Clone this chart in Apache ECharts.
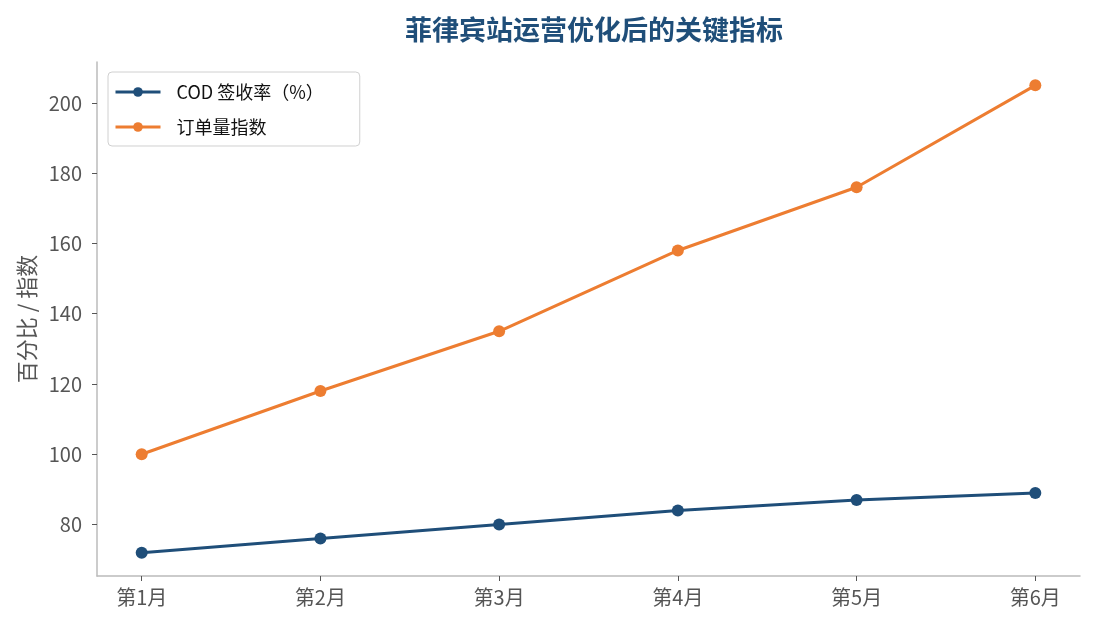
<!DOCTYPE html>
<html>
<head>
<meta charset="utf-8">
<script src="https://cdn.jsdelivr.net/npm/echarts@6/dist/echarts.min.js"></script>
<style>
  html, body { margin: 0; padding: 0; background: #fff; }
  #chart { width: 1095px; height: 630px; }
</style>
</head>
<body>
<div id="chart"></div>
<script>
const months = ['第1月', '第2月', '第3月', '第4月', '第5月', '第6月']
const codRate = [72, 76, 80, 84, 87, 89]
const orderIndex = [100, 118, 135, 158, 176, 205]
const yTicks = [80, 100, 120, 140, 160, 180, 200]

const FONT = '"Noto Sans CJK SC", "Noto Sans", sans-serif'
const BLUE = '#1f4e79'
const ORANGE = '#ed7d31'

function toPoints(values) {
  return values.map((v, i) => [i, v])
}

const chart = echarts.init(document.getElementById('chart'))

chart.setOption({
  animation: false,
  textStyle: { fontFamily: FONT },
  title: {
    text: '菲律宾站运营优化后的关键指标',
    left: 589,
    textAlign: 'center',
    top: 11,
    textStyle: { fontFamily: FONT, fontSize: 27, fontWeight: 'bold', color: BLUE },
  },
  legend: {
    left: 108,
    top: 72,
    orient: 'vertical',
    backgroundColor: '#fff',
    borderColor: '#d0d0d0',
    borderWidth: 1,
    borderRadius: 4,
    padding: [11, 36, 10, 6],
    itemWidth: 45,
    itemHeight: 12,
    itemGap: 17,
    lineStyle: { width: 3 },
    textStyle: { fontFamily: FONT, fontSize: 18, color: '#111', padding: [0, 0, 0, 11] },
    data: ['COD 签收率（%）', '订单量指数'],
  },
  grid: { left: 97, right: 15, top: 62, bottom: 54 },
  xAxis: {
    type: 'value',
    min: -0.25,
    max: 5.25,
    splitLine: { show: false },
    axisLine: { show: true, onZero: false, lineStyle: { color: '#bbb', width: 1.5 } },
    axisTick: { show: true, customValues: months.map((m, i) => i), length: 5, lineStyle: { color: '#555' } },
    axisLabel: {
      customValues: months.map((m, i) => i),
      formatter: v => months[Math.round(v)],
      color: '#555',
      fontSize: 20,
      margin: 11,
    },
  },
  yAxis: {
    type: 'value',
    min: 65.35,
    max: 211.65,
    name: '百分比 / 指数',
    nameLocation: 'middle',
    nameGap: 58,
    nameTextStyle: { fontFamily: FONT, fontSize: 22, color: '#555' },
    splitLine: { show: false },
    axisLine: { show: true, onZero: false, lineStyle: { color: '#bbb', width: 1.5 } },
    axisTick: { show: true, customValues: yTicks, length: 5, lineStyle: { color: '#555' } },
    axisLabel: { customValues: yTicks, color: '#555', fontSize: 20, margin: 15 },
  },
  series: [
    {
      name: 'COD 签收率（%）',
      type: 'line',
      data: toPoints(codRate),
      symbol: 'circle',
      symbolSize: 12,
      itemStyle: { color: BLUE },
      lineStyle: { color: BLUE, width: 3 },
    },
    {
      name: '订单量指数',
      type: 'line',
      data: toPoints(orderIndex),
      symbol: 'circle',
      symbolSize: 12,
      itemStyle: { color: ORANGE },
      lineStyle: { color: ORANGE, width: 3 },
    },
  ],
})
</script>
</body>
</html>
